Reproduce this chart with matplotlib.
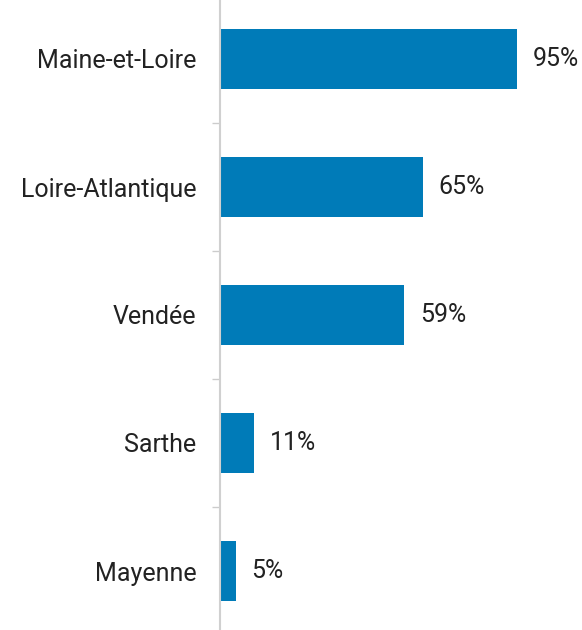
import matplotlib
matplotlib.use("Agg")
import matplotlib.pyplot as plt
from matplotlib.ticker import FixedLocator

categories = ["Maine-et-Loire", "Loire-Atlantique", "Vendée", "Sarthe", "Mayenne"]
values = [95, 65, 59, 11, 5]

plt.rcParams['font.family'] = ['Roboto', 'DejaVu Sans']

fig = plt.figure(figsize=(5.82, 6.3), dpi=100)
ax = fig.add_axes([220/582, -5/630, (582-220)/582, 640/630])

pos = list(range(len(categories)))
ax.barh(pos, values, height=0.47, color="#007bb8")
ax.set_ylim(len(categories) - 0.5, -0.5)
ax.set_xlim(0, 362/3.126)

for p, v in zip(pos, values):
    ax.text(v + 5, p, f"{v}%", va="center", ha="left", fontsize=18, color="#222222")

ax.set_yticks(pos)
ax.set_yticklabels(categories, fontsize=18, color="#222222")
ax.tick_params(axis="y", which="major", length=0, pad=17)
ax.yaxis.set_minor_locator(FixedLocator([i + 0.5 for i in pos[:-1]] + [-0.5, len(pos) - 0.5]))
ax.tick_params(axis="y", which="minor", length=6, color="#cccccc", width=1)
ax.set_xticks([])
for s in ["top", "right", "bottom"]:
    ax.spines[s].set_visible(False)
ax.spines["left"].set_color("#d0d0d0")
ax.spines["left"].set_linewidth(1.5)

fig.savefig("out.png", dpi=100)
